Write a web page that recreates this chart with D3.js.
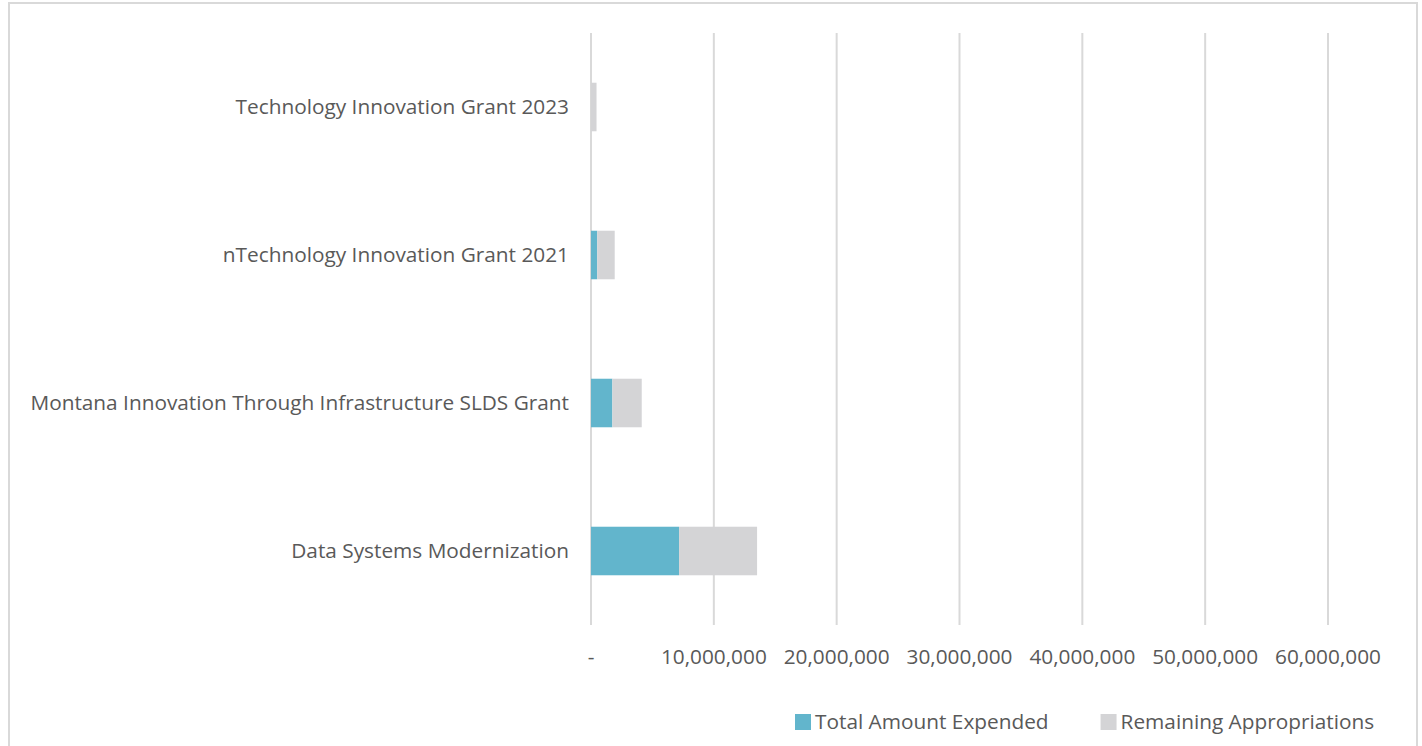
<!DOCTYPE html>
<html>
<head>
<meta charset="utf-8">
<script src="https://cdn.jsdelivr.net/npm/d3@7"></script>
<style>
  html, body { margin: 0; padding: 0; background: #fff; }
  svg { display: block; }
  text { font-family: "Open Sans", "Noto Sans", sans-serif; fill: #595959; }
</style>
</head>
<body>
<svg id="chart" width="1422" height="746"></svg>
<script>
// Grant programs, listed top to bottom
const categories = [
  "Technology Innovation Grant 2023",
  "nTechnology Innovation Grant 2021",
  "Montana Innovation Through Infrastructure SLDS Grant",
  "Data Systems Modernization"
];
const expended = [0, 510000, 1740000, 7170000];
const remaining = [450000, 1420000, 2390000, 6350000];
const seriesNames = ["Total Amount Expended", "Remaining Appropriations"];
const seriesColors = ["#62b5cc", "#d4d4d6"];
const xTicks = [0, 10000000, 20000000, 30000000, 40000000, 50000000, 60000000];

const svg = d3.select("#chart");
const FONT = 20.8;

// outer frame (bottom edge runs past the page)
svg.append("rect")
  .attr("x", 9).attr("y", 3)
  .attr("width", 1408).attr("height", 760)
  .attr("fill", "#fff")
  .attr("stroke", "#d9d9d9").attr("stroke-width", 2);

const plot = { left: 591, right: 1328, top: 33, bottom: 625 };

const x = d3.scaleLinear().domain([0, 60000000]).range([plot.left, plot.right]);
const y = d3.scaleBand().domain(categories)
  .range([plot.top, plot.bottom])
  .paddingInner(0.672).paddingOuter(0.336);

// vertical gridlines
svg.append("g").selectAll("line").data(xTicks).join("line")
  .attr("x1", d => x(d)).attr("x2", d => x(d))
  .attr("y1", plot.top).attr("y2", plot.bottom)
  .attr("stroke", "#d9d9d9").attr("stroke-width", 2);

// stacked bars
const rows = categories.map((c, i) => ({ cat: c, values: [expended[i], remaining[i]] }));
const stack = d3.stack().keys([0, 1]).value((d, k) => d.values[k]);
const layers = stack(rows);

svg.append("g").selectAll("g").data(layers).join("g")
  .attr("fill", (d, i) => seriesColors[i])
  .selectAll("rect").data(d => d).join("rect")
  .attr("x", d => x(d[0]))
  .attr("width", d => Math.max(0, x(d[1]) - x(d[0])))
  .attr("y", d => y(d.data.cat))
  .attr("height", y.bandwidth());

// category labels
svg.append("g").selectAll("text").data(categories).join("text")
  .attr("x", 569)
  .attr("y", d => y(d) + y.bandwidth() / 2)
  .attr("dy", "0.35em")
  .attr("text-anchor", "end")
  .attr("font-size", FONT)
  .text(d => d);

// value axis labels
const fmt = d => d === 0 ? "-" : d3.format(",")(d);
svg.append("g").selectAll("text").data(xTicks).join("text")
  .attr("x", d => x(d))
  .attr("y", 657)
  .attr("dy", "0.35em")
  .attr("text-anchor", "middle")
  .attr("font-size", FONT)
  .text(fmt);

// legend
const legend = svg.append("g");
let lx = 795;
seriesNames.forEach((name, i) => {
  legend.append("rect")
    .attr("x", lx).attr("y", 714)
    .attr("width", 16).attr("height", 16)
    .attr("fill", seriesColors[i]);
  const t = legend.append("text")
    .attr("x", lx + 20).attr("y", 722)
    .attr("dy", "0.35em")
    .attr("font-size", FONT)
    .text(name);
  lx += 20 + t.node().getComputedTextLength() + 52;
});
</script>
</body>
</html>
